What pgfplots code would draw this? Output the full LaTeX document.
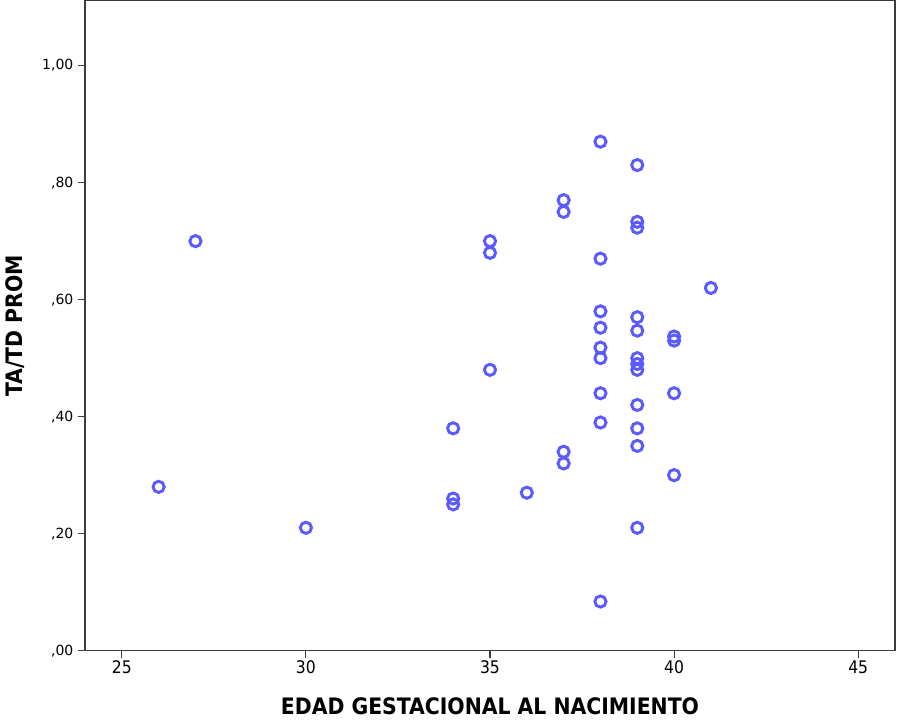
\documentclass[border=0pt]{standalone}
\usepackage{fontspec}
\setmainfont{DejaVu Sans}
\newfontfamily\condfont{DejaVu Sans Condensed}
\usepackage{pgfplots}
\pgfplotsset{compat=1.18}
\usetikzlibrary{calc}
\definecolor{dotblue}{RGB}{90,90,255}
\definecolor{frame}{RGB}{60,60,60}

\begin{document}
\begin{tikzpicture}[x=0.75pt,y=0.75pt]
  \begin{axis}[
    at={(0,0)}, anchor=south west,
    scale only axis,
    width=607.5pt, height=487.5pt,
    xmin=24, xmax=46, ymin=0, ymax=1.111,
    xtick={25,30,35,40,45},
    ytick={0,0.2,0.4,0.6,0.8,1.0},
    yticklabels={{,00},{,20},{,40},{,60},{,80},{1,00}},
    xticklabel style={font=\condfont\fontsize{13}{13}\selectfont, yshift=1pt},
    yticklabel style={font=\fontsize{10.5}{11}\selectfont},
    tick align=outside,
    major tick length=5.2pt,
    xtick pos=bottom, ytick pos=left,
    axis line style={frame, line width=1pt},
    tick style={frame, line width=0.8pt},
    xlabel={\condfont\bfseries EDAD GESTACIONAL AL NACIMIENTO},
    ylabel={\condfont\bfseries TA/TD PROM},
    xlabel style={font=\fontsize{17}{17}\selectfont,
      at={($(rel axis cs:0.5,0)+(0,-42pt)$)}, anchor=center},
    ylabel style={font=\fontsize{17}{17}\selectfont,
      at={($(rel axis cs:0,0.5)+(-52.5pt,0)$)}, anchor=center},
    /pgf/number format/assume math mode=true,
  ]
  \addplot[only marks, mark=o, mark size=4.2pt,
           mark options={draw=dotblue, line width=2.2pt}]
    coordinates {
      (26,0.28) (27,0.70) (30,0.21)
      (34,0.38) (34,0.26) (34,0.25)
      (35,0.70) (35,0.68) (35,0.48)
      (36,0.27)
      (37,0.77) (37,0.75) (37,0.34) (37,0.32)
      (38,0.87) (38,0.67) (38,0.58) (38,0.552) (38,0.518) (38,0.50)
      (38,0.44) (38,0.39) (38,0.084)
      (39,0.83) (39,0.733) (39,0.723) (39,0.57) (39,0.547) (39,0.50)
      (39,0.49) (39,0.48) (39,0.42) (39,0.38) (39,0.35) (39,0.21)
      (40,0.537) (40,0.53) (40,0.44) (40,0.30)
      (41,0.62)
    };
  \end{axis}
  \path[use as bounding box] (-85,-65) rectangle (812,2);
\end{tikzpicture}
\end{document}
